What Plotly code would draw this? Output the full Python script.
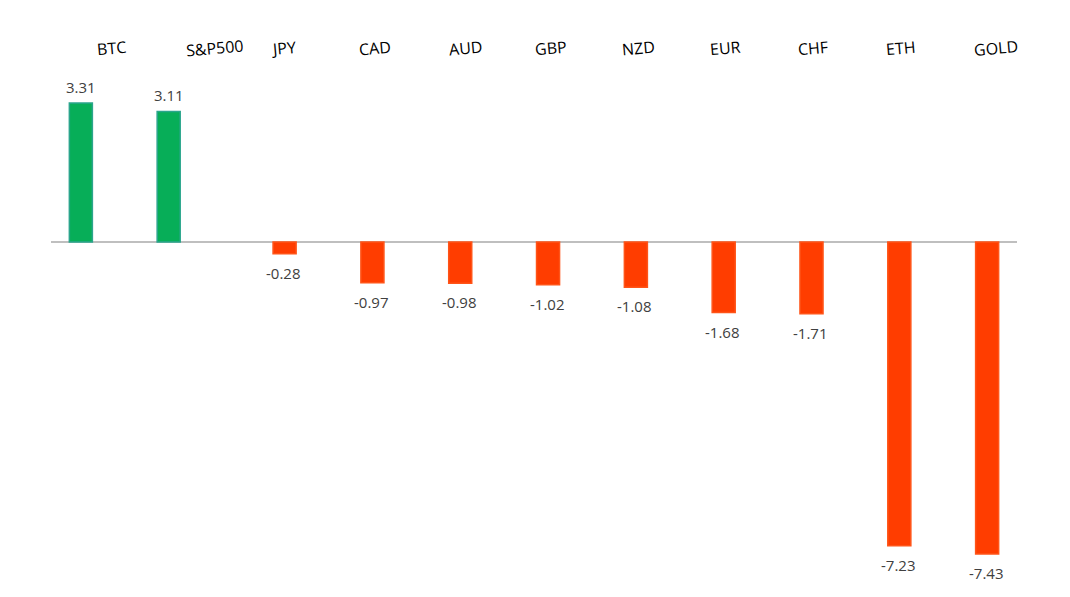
import plotly.graph_objects as go

categories = ["BTC", "S&P500", "JPY", "CAD", "AUD", "GBP", "NZD", "EUR", "CHF", "ETH", "GOLD"]
values = [3.31, 3.11, -0.28, -0.97, -0.98, -1.02, -1.08, -1.68, -1.71, -7.23, -7.43]

pos_vals = [v if v >= 0 else None for v in values]
neg_vals = [v if v < 0 else None for v in values]

label_xshift = [17, 32, 13, 17, 19, 17, 17, 16, 16, 16, 23]

fig = go.Figure()
fig.add_trace(go.Bar(
    x=categories, y=pos_vals,
    marker=dict(color="#07AE58", line=dict(color="#2BA58C", width=1.5)),
    showlegend=False, hoverinfo="x+y",
))
fig.add_trace(go.Bar(
    x=categories, y=neg_vals,
    marker=dict(color="#FF3D00", line=dict(color="#FF5418", width=1.5)),
    showlegend=False, hoverinfo="x+y",
))

# value labels (positive bars sit left in each group, negative bars right)
for c, v in zip(categories, values):
    fig.add_annotation(
        x=c, y=v, xref="x", yref="y", text=f"{v:.2f}", showarrow=False,
        xanchor="center", yanchor="middle",
        xshift=-14 if v >= 0 else 13, yshift=16 if v >= 0 else -19,
        font=dict(family="Open Sans", size=15, color="#404040"),
    )

for i, c in enumerate(categories):
    fig.add_annotation(
        x=c, xref="x", y=1, yref="paper", yanchor="middle", xanchor="center",
        text=c.replace("&", "&amp;"), showarrow=False, textangle=-5,
        xshift=label_xshift[i], yshift=26,
        font=dict(family="Open Sans", size=16, color="#000000"),
    )

fig.update_layout(
    width=1070, height=597,
    margin=dict(l=51, r=53, t=74, b=19),
    paper_bgcolor="white", plot_bgcolor="white",
    barmode="group", bargap=0.36, bargroupgap=0.18,
    xaxis=dict(showticklabels=False, showgrid=False, showline=False, zeroline=False,
               range=[-0.5, 10.5], fixedrange=True),
    yaxis=dict(range=[-8, 4], showticklabels=False, showgrid=False, showline=False,
               zeroline=True, zerolinecolor="#BFBFBF", zerolinewidth=2),
)

fig.write_html("out.html")
